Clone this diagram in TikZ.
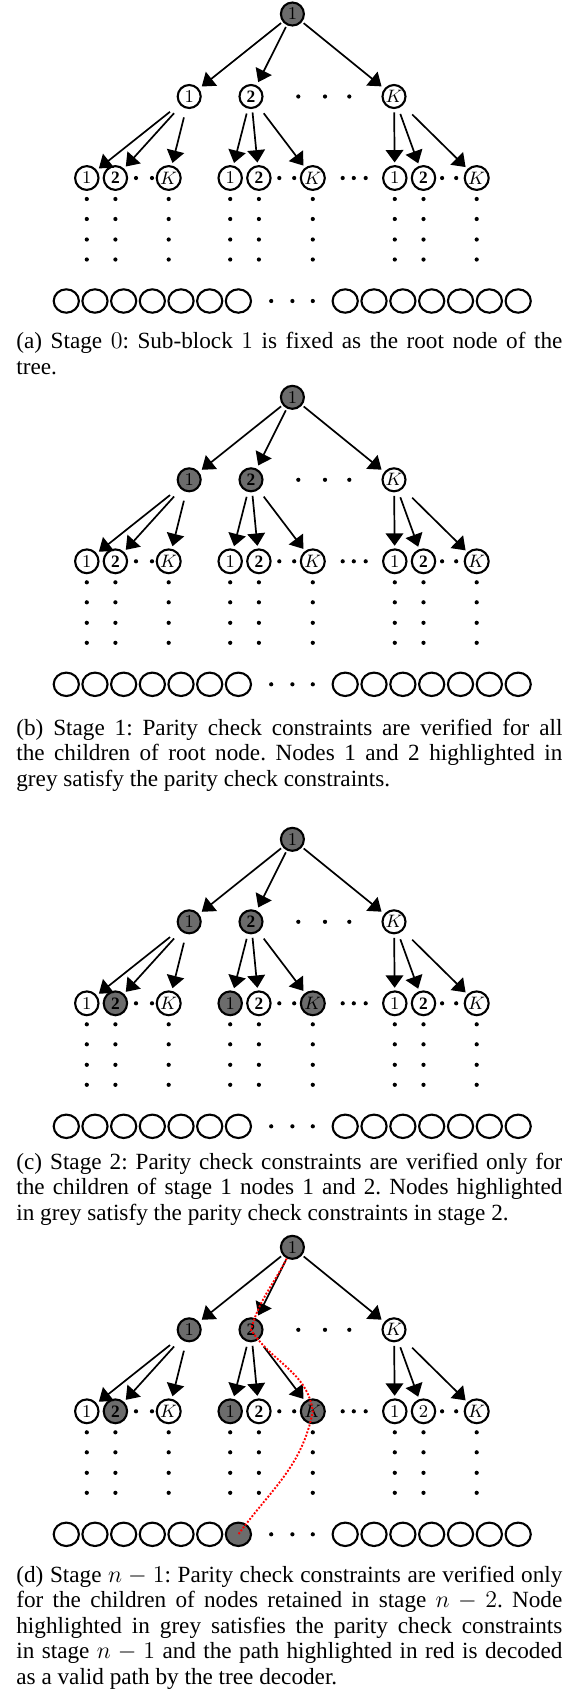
\documentclass[tikz,border=0pt]{standalone}
\usepackage{fontspec}
\setmainfont{Liberation Serif}
\usetikzlibrary{arrows.meta,shapes.geometric}
\definecolor{nodegrey}{RGB}{108,108,108}

\begin{document}
\begin{tikzpicture}[x=0.5pt,y=-0.5pt,
    vnode/.style={circle,draw,line width=1.05pt,minimum size=11.5pt,inner sep=0pt,font=\fontsize{8.7}{9}\selectfont},
    lnode/.style={ellipse,draw,line width=1.05pt,minimum width=11.7pt,minimum height=11.9pt,inner sep=0pt,font=\fontsize{8.7}{9}\selectfont},
    leaf/.style={ellipse,draw,line width=1.05pt,minimum width=12.6pt,minimum height=11.7pt,inner sep=0pt},
    tarrow/.style={-{Triangle[length=6.2pt,width=8.8pt]},line width=0.85pt},
    redpath/.style={red,line width=0.95pt,dash pattern=on 0.95pt off 0.85pt},
    captext/.style={anchor=base west,text width=273pt,align=justify,inner sep=0pt,font=\fontsize{11.6}{12.8}\selectfont\frenchspacing}]
    \useasboundingbox (0,0) rectangle (584,1694);

    % the four stages of the tree
    \foreach \p/\py/\fa/\fb/\fc/\tc in {a/14/white/white/white/\mathbf{2},
        b/397.3/nodegrey/white/white/\mathbf{2},
        c/839.3/nodegrey/nodegrey/white/\mathbf{2},
        d/1247.3/nodegrey/nodegrey/nodegrey/2}{
    \begin{scope}[shift={(0,\py)}]
        % root and first level
        \node[vnode,fill=nodegrey] (r\p) at (292.4,0) {$1$};
        \node[vnode,fill=\fa] (a1\p) at (189.2,82.5) {$1$};
        \node[vnode,fill=\fa] (a2\p) at (251,82.5) {$\mathbf{2}$};
        \node[vnode,fill=white] (aK\p) at (394,82.5) {$K$};
        \foreach \x in {298.3,325,349.3}
            \fill (\x,82.5) circle (1.05pt);

        % second level
        \node[lnode,fill=white] (b1\p) at (86.8,164) {$1$};
        \node[lnode,fill=\fb] (b2\p) at (115.4,164) {$\mathbf{2}$};
        \node[lnode,fill=white] (bK\p) at (168.7,164) {$K$};
        \node[lnode,fill=\fb] (c1\p) at (230.2,164) {$1$};
        \node[lnode,fill=white] (c2\p) at (258.9,164) {$\mathbf{2}$};
        \node[lnode,fill=\fb] (cK\p) at (312.8,164) {$K$};
        \node[lnode,fill=white] (d1\p) at (394.8,164) {$1$};
        \node[lnode,fill=white] (d2\p) at (423.5,164) {$\tc$};
        \node[lnode,fill=white] (dK\p) at (476.7,164) {$K$};
        \foreach \x in {136,152,279.3,294.2,442.1,456.2,342.7,353.8,365.7}
            \fill (\x,164) circle (1.05pt);

        % arrows
        \foreach \t in {a1,a2,aK}
            \draw[tarrow,shorten <=1pt,shorten >=1.75pt] (r\p) -- (\t\p);
        \foreach \t/\s in {1/6pt,2/5pt,K/4.5pt}
            \draw[tarrow,shorten <=\s,shorten >=1.3pt] (a1\p) -- (b\t\p);
        \foreach \t/\s in {1/2.5pt,2/1.75pt,K/4.25pt}
            \draw[tarrow,shorten <=\s,shorten >=1.3pt] (a2\p) -- (c\t\p);
        \foreach \t/\s in {1/1.7pt,2/3pt,K/6.5pt}
            \draw[tarrow,shorten <=\s,shorten >=1.3pt] (aK\p) -- (d\t\p);

        % vertical dots
        \foreach \x in {86.8,115.4,168.7,230.2,258.9,312.8,394.8,423.5,476.7}
            \foreach \y in {185,205,225.5,245.5}
                \fill (\x,\y) circle (1.05pt);

        % leaves
        \foreach \k in {1,...,6}
            \node[leaf] (u\p\k) at ({66.3+28.68*(\k-1)},287) {};
        \node[leaf,fill=\fc] (u\p7) at (238.4,287) {};
        \foreach \k in {1,...,7}
            \node[leaf] (w\p\k) at ({345.2+28.83*(\k-1)},287) {};
        \foreach \x in {271.2,292.4,312.8}
            \fill (\x,287) circle (1.05pt);
    \end{scope}
    }

    % decoded path
    \draw[redpath] (rd.243) to[out=243,in=75] (a2d.center) to[out=-57,in=98] (cKd.center)
        to[out=-101,in=54] (ud7.center);

    % captions
    \node[captext] (capa) at (16,348.5) {(a) Stage $0$: Sub-block $1$ is fixed as the root node of the\linebreak tree.};
    \node[captext] (capb) at (16,735) {(b) Stage 1: Parity check constraints are verified for all\linebreak the children of root node. Nodes 1 and 2 highlighted in\linebreak grey satisfy the parity check constraints.};
    \node[captext] (capc) at (16,1169) {(c) Stage 2: Parity check constraints are verified only for\linebreak the children of stage 1 nodes 1 and 2. Nodes highlighted\linebreak in grey satisfy the parity check constraints in stage 2.};
    \node[captext] (capd) at (16,1582) {(d) Stage $n-1$: Parity check constraints are verified only\linebreak for the children of nodes retained in stage $n-2$. Node\linebreak highlighted in grey satisfies the parity check constraints\linebreak in stage $n-1$ and the path highlighted in red is decoded\linebreak as a valid path by the tree decoder.};
\end{tikzpicture}
\end{document}
